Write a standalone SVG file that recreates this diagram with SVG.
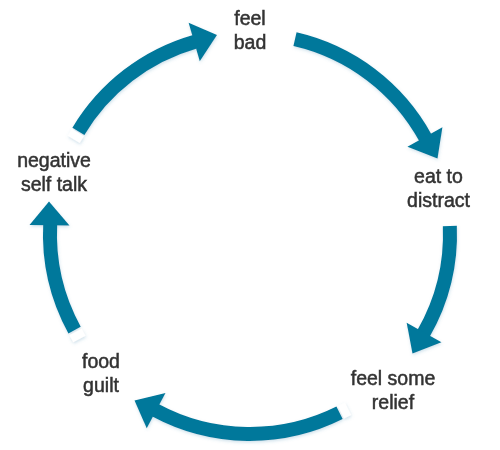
<svg xmlns="http://www.w3.org/2000/svg" width="500" height="450" viewBox="0 0 500 450">
<defs>
<filter id="sh" x="-20%" y="-20%" width="140%" height="140%">
<feDropShadow dx="0.5" dy="1.5" stdDeviation="1.6" flood-color="#4f93b8" flood-opacity="0.28"/>
</filter>
</defs>
<style>
.arc{fill:none;stroke:#05789b;stroke-width:14;stroke-linecap:butt}
.head{fill:#05789b}
.cap{fill:#ffffff}
.lbl{font-family:"Liberation Sans",Arial,Helvetica,sans-serif;font-size:19.5px;fill:#333333;stroke:#333333;stroke-width:0.5px;text-anchor:middle}
</style>
<rect width="500" height="450" fill="#ffffff"/>
<g id="connectors" filter="url(#sh)">
<g id="arc-bad-eat">
<path class="arc" d="M294.99 39.13 A200 200 0 0 1 425.5 138"/>
<polygon class="head" points="442.41,127.34 437.5,158.5 407.43,146.74"/>
</g>
<g id="arc-eat-relief">
<path class="arc" d="M449.84 225.97 A200 200 0 0 1 423.5 333.5"/>
<polygon class="head" points="441.48,342.33 412.5,353.5 406.66,322.63"/>
</g>
<g id="arc-relief-guilt">
<rect class="cap" x="-4" y="-7" width="8" height="14" transform="translate(344.5,410.5) rotate(153.4)"/>
<path class="arc" d="M339.55 412.83 A200 200 0 0 1 155.2 410.1"/>
<polygon class="head" points="146.72,428.25 134.5,400.5 165.5,392.93"/>
</g>
<g id="arc-guilt-negative">
<rect class="cap" x="-4" y="-7" width="8" height="14" transform="translate(77.5,335.5) rotate(-118.7)"/>
<path class="arc" d="M74.57 330.04 A200 200 0 0 1 50.2 224"/>
<polygon class="head" points="29.5,225 49,201.5 69.5,225.5"/>
</g>
<g id="arc-negative-bad">
<rect class="cap" x="-4" y="-7" width="8" height="14" transform="translate(75.8,136) rotate(-59)"/>
<path class="arc" d="M78.39 131.29 A200 200 0 0 1 195 41.7"/>
<polygon class="head" points="188.62,22.73 217,35 199.78,61.15"/>
</g>
</g>
<g id="node-feel-bad"><text class="lbl" x="250" y="25">feel</text><text class="lbl" x="250" y="49">bad</text></g>
<g id="node-eat-to-distract"><text class="lbl" x="438.5" y="183">eat to</text><text class="lbl" x="438.5" y="207">distract</text></g>
<g id="node-feel-some-relief"><text class="lbl" x="393" y="385">feel some</text><text class="lbl" x="393" y="409">relief</text></g>
<g id="node-food-guilt"><text class="lbl" x="101" y="368">food</text><text class="lbl" x="101" y="392">guilt</text></g>
<g id="node-negative-self-talk"><text class="lbl" x="54" y="167">negative</text><text class="lbl" x="54" y="191">self talk</text></g>
</svg>
